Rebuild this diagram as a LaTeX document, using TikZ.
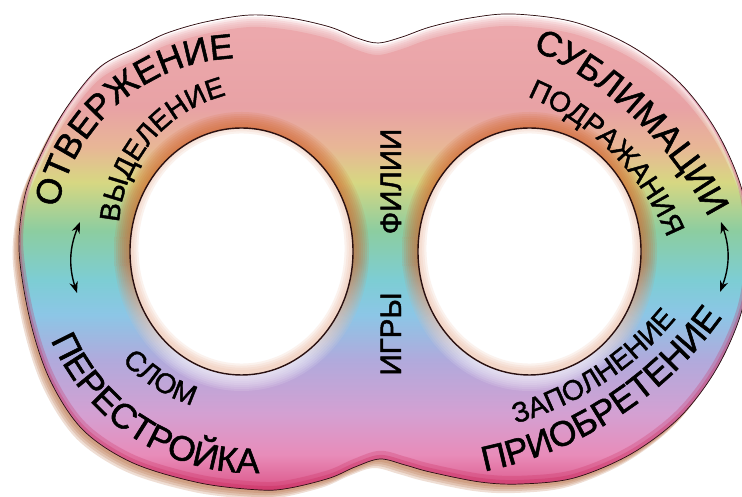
\documentclass[tikz,border=0pt]{standalone}
\usepackage{fontspec}
\usepackage{tikz}
\usetikzlibrary{decorations.text,arrows.meta}
\newfontfamily\ringfont[FakeBold=1.5]{Liberation Sans}
\definecolor{RingEdge}{HTML}{C8285A}
\definecolor{RingRose}{HTML}{DE5F91}
\definecolor{RingPink}{HTML}{E88CB9}
\definecolor{RingMauve}{HTML}{D4A0D2}
\definecolor{RingLilac}{HTML}{B0AADC}
\definecolor{RingSky}{HTML}{8CC6E6}
\definecolor{RingCyan}{HTML}{7DCDD4}
\definecolor{RingGreen}{HTML}{8CCDA0}
\definecolor{RingYellow}{HTML}{D7D782}
\definecolor{RingPeach}{HTML}{E8B696}
\definecolor{RingBlush}{HTML}{E8A2A5}
\definecolor{RingTop}{HTML}{ECA8AC}
\definecolor{RingShadow}{HTML}{B4683C}
\definecolor{RingGlow}{HTML}{D2642D}
\definecolor{RingLine}{HTML}{2A1010}
\pgfdeclareverticalshading{ringband}{100bp}{color(0bp)=(RingEdge); color(25bp)=(RingEdge); color(27bp)=(RingRose); color(30bp)=(RingPink); color(34.3bp)=(RingMauve); color(40bp)=(RingLilac); color(44.7bp)=(RingSky); color(48.3bp)=(RingCyan); color(53.5bp)=(RingGreen); color(58.6bp)=(RingYellow); color(62.3bp)=(RingPeach); color(66.4bp)=(RingBlush); color(74.3bp)=(RingTop); color(100bp)=(RingTop)}
\pgfdeclareverticalshading{holeglow}{100bp}{color(0bp)=(white); color(30bp)=(white); color(48bp)=(RingGlow); color(100bp)=(RingGlow)}
\newcommand{\ringoutline}{plot[smooth cycle, tension=0.55] coordinates {(19,247) (25,302) (43,347) (67,390) (100,430) (140,451) (167,464) (205,475) (250,482) (290,479) (330,470) (357,459) (378,454) (402,460) (430,470) (470,479) (513,483) (574,475) (631,451) (680,414) (717,365) (742,307) (749,247) (742,187) (717,129) (680,80) (631,43) (574,19) (521,13) (480,15) (430,25) (405,32) (380,38) (355,30) (330,19) (290,9) (260,7) (200,14) (133,34) (83,67) (50,117) (30,177)}}
\tikzset{
  bigring/.style={decorate, decoration={text along path, text align=center, text={|\ringfont\fontsize{25pt}{25pt}\selectfont|#1}}},
  smallring/.style={decorate, decoration={text along path, text align=center, text={|\ringfont\fontsize{20pt}{20pt}\selectfont|#1}}},
  midtext/.style={anchor=base, rotate=90, inner sep=0pt, font=\ringfont\fontsize{21pt}{21pt}\selectfont},
  swing/.style={{Stealth[length=8pt,width=6pt]}-{Stealth[length=8pt,width=6pt]}, line width=1pt, black}
}

\begin{document}
\begin{tikzpicture}[x=0.025cm,y=0.025cm]
\useasboundingbox (0,0) rectangle (742,497);
\foreach \d in {3,5,7,9} \fill[RingShadow, opacity=0.22, shift={(-0.7*\d,-\d)}] \ringoutline;
\begin{scope}
\clip \ringoutline;
\fill[white] (0,0) rectangle (760,497);
\foreach \d in {2,4,...,10} \shade[shading=ringband, opacity=0.25, shift={(0,-\d)}] \ringoutline;
\shade[shading=ringband, shift={(0,-12)}] \ringoutline;
\draw[RingEdge, opacity=0.25, line width=6pt, shift={(0,4)}] \ringoutline;
\draw[RingEdge, opacity=0.3, line width=3pt, shift={(0,2)}] \ringoutline;
\foreach \k in {2,4,...,16} {
  \shade[shading=holeglow, opacity=0.12] (241.5,245.5) ellipse[x radius=111.5+\k, y radius=123.5+\k];
  \shade[shading=holeglow, opacity=0.12] (529.5,245.5) ellipse[x radius=111.5+\k, y radius=123.5+\k];
}
\end{scope}
\draw[RingLine, line width=0.5pt] \ringoutline;
\fill[white] (241.5,245.5) ellipse[x radius=111.5, y radius=123.5];
\fill[white] (529.5,245.5) ellipse[x radius=111.5, y radius=123.5];
\begin{scope}
\clip (241.5,245.5) ellipse[x radius=111.5, y radius=123.5];
\foreach \w in {3,6,9,12} \draw[RingGlow!45!white, opacity=0.18, line width=\w pt, shift={(0,3)}] (241.5,245.5) ellipse[x radius=111.5, y radius=123.5];
\end{scope}
\begin{scope}
\clip (529.5,245.5) ellipse[x radius=111.5, y radius=123.5];
\foreach \w in {3,6,9,12} \draw[RingGlow!45!white, opacity=0.18, line width=\w pt, shift={(0,3)}] (529.5,245.5) ellipse[x radius=111.5, y radius=123.5];
\end{scope}
\draw[RingLine, line width=1pt] (241.5,245.5) ellipse[x radius=111.5, y radius=123.5];
\draw[RingLine, line width=1pt] (529.5,245.5) ellipse[x radius=111.5, y radius=123.5];
\path[bigring=ОТВЕРЖЕНИЕ] ([shift={(180.3:187.4)}]241.3,251.4) arc[start angle=180.3, end angle=80.3, radius=187.4];
\path[smallring=ВЫДЕЛЕНИЕ] ([shift={(189.85:143)}]261.6,263.2) arc[start angle=189.85, end angle=89.85, radius=143];
\path[bigring=СУБЛИМАЦИИ] ([shift={(76.35:375.7)}]375.3,106.4) arc[start angle=76.35, end angle=16.35, radius=375.7];
\path[smallring=ПОДРАЖАНИЯ] ([shift={(79.75:259)}]427.6,161.5) arc[start angle=79.75, end angle=9.75, radius=259];
\path[bigring=ПЕРЕСТРОЙКА] ([shift={(187.5:220)}]252.9,244) arc[start angle=187.5, end angle=287.5, radius=220];
\path[smallring=СЛОМ] ([shift={(207.6:162)}]241,246) arc[start angle=207.6, end angle=267.6, radius=162];
\path[smallring=ЗАПОЛНЕНИЕ] ([shift={(273.1:324)}]426.8,385.2) arc[start angle=273.1, end angle=333.1, radius=324];
\path[bigring=ПРИОБРЕТЕНИЕ] ([shift={(272.9:385.3)}]408.8,403.5) arc[start angle=272.9, end angle=332.9, radius=385.3];
\node[midtext] (filii) at (401,315.5) {ФИЛИИ};
\node[midtext] (igry) at (401,163) {ИГРЫ};
\coordinate (lefttop) at (80,275);
\coordinate (leftbot) at (77,204);
\coordinate (righttop) at (721,275);
\coordinate (rightbot) at (720,205);
\draw[swing] (lefttop) to[bend right=20] (leftbot);
\draw[swing] (righttop) to[bend left=20] (rightbot);
\end{tikzpicture}
\end{document}
